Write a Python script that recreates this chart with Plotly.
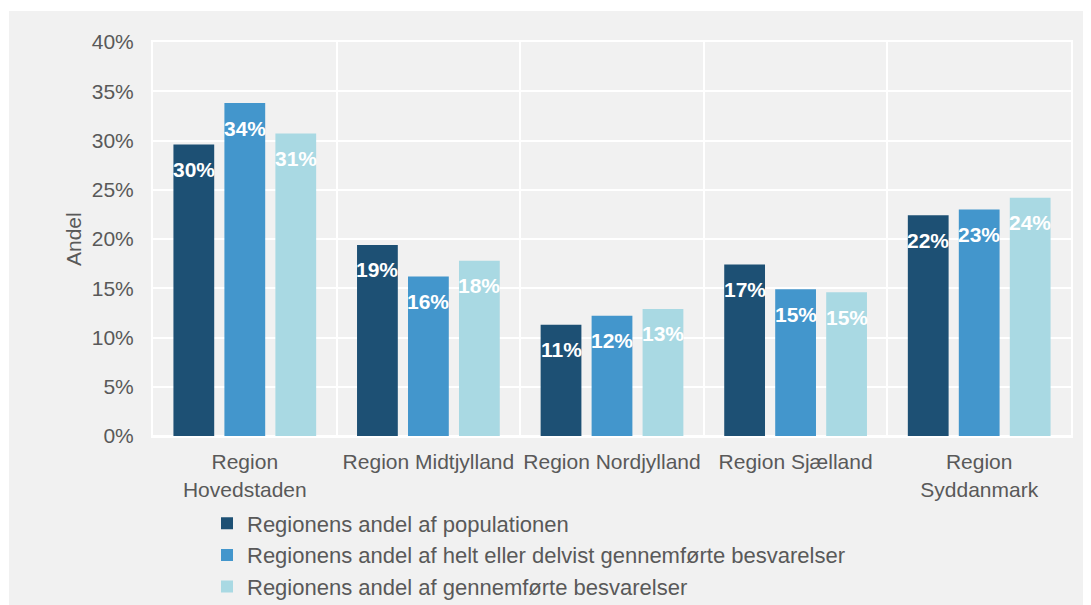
import plotly.graph_objects as go

categories = ["Region<br>Hovedstaden", "Region Midtjylland", "Region Nordjylland",
              "Region Sjælland", "Region<br>Syddanmark"]
series_names = ["Regionens andel af populationen",
                "Regionens andel af helt eller delvist gennemførte besvarelser",
                "Regionens andel af gennemførte besvarelser"]
population = [29.6, 19.4, 11.3, 17.4, 22.4]
partial = [33.8, 16.2, 12.2, 14.9, 23.0]
completed = [30.7, 17.8, 12.9, 14.6, 24.2]
y_ticks = [0, 5, 10, 15, 20, 25, 30, 35, 40]

colors = ["#1d5074", "#4396cc", "#a9d9e3"]
series = [population, partial, completed]

FONT = "Liberation Sans, Arial, sans-serif"
TXT = "#595959"

# page is rendered with an 8px body margin; lay out accordingly
L, R, T, B = 145, 28, 34, 177
PW = 1091 - L - R
PH = 605 - T - B

fig = go.Figure()
for name, vals, col in zip(series_names, series, colors):
    fig.add_trace(go.Bar(
        x=categories, y=vals, name=name,
        marker=dict(color=col, line=dict(width=0)),
        hoverinfo="skip",
    ))

# data labels inside the top of each bar
bargap = 0.167
slot = (1 - bargap) / 3
annotations = []
for i, vals in enumerate(series):
    for j, v in enumerate(vals):
        annotations.append(dict(
            x=j + (i - 1) * slot, y=v, xref="x", yref="y",
            text=f"<b>{round(v)}%</b>", showarrow=False,
            yshift=-25, yanchor="middle", xanchor="center",
            font=dict(family=FONT, size=21, color="white"),
        ))

# y-axis title
annotations.append(dict(
    x=-80 / PW, y=0.5, xref="paper", yref="paper", text="Andel", textangle=-90,
    showarrow=False, xanchor="center", yanchor="middle",
    font=dict(family=FONT, size=21, color=TXT),
))

fig.update_layout(
    width=1091, height=605,
    margin=dict(l=L, r=R, t=T, b=B, autoexpand=False),
    paper_bgcolor="white",
    plot_bgcolor="#f1f1f1",
    barmode="group", bargap=bargap, bargroupgap=0.2,
    font=dict(family=FONT, size=21, color=TXT),
    showlegend=True,
    legend=dict(
        x=54 / PW, y=-119 / PH, xanchor="left", yanchor="middle",
        orientation="v", bgcolor="rgba(0,0,0,0)",
        font=dict(family=FONT, size=22, color=TXT),
        tracegroupgap=0, itemwidth=30,
    ),
    annotations=annotations,
    shapes=[dict(
        type="rect", xref="paper", yref="paper",
        x0=(1 - L) / PW, x1=(1100 - L) / PW,
        y0=-(620 - T - PH) / PH, y1=(PH + T - 3) / PH,
        fillcolor="#f1f1f1", line=dict(width=0), layer="below",
    )],
)

fig.update_xaxes(
    type="category", tickson="boundaries", showgrid=True, gridcolor="white",
    gridwidth=2, ticks="", zeroline=False, tickangle=0,
    showline=True, linecolor="white", linewidth=2, mirror=True,
    automargin=False,
    tickfont=dict(family=FONT, size=21, color=TXT), ticklabelstandoff=6,
)
fig.update_yaxes(
    range=[0, 40], tickvals=y_ticks, ticktext=[f"{t}%" for t in y_ticks],
    showgrid=True, gridcolor="white", gridwidth=2, automargin=False,
    zeroline=True, zerolinecolor="white", zerolinewidth=2,
    showline=True, linecolor="white", linewidth=2, mirror=True, ticks="",
    tickfont=dict(family=FONT, size=21, color=TXT), ticklabelstandoff=13,
)

fig.write_html("out.html")
